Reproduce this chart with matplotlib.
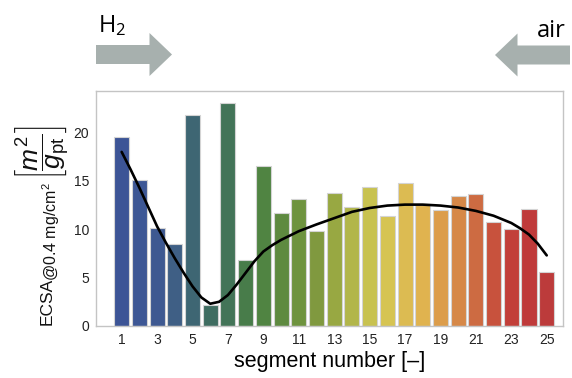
import numpy as np
import matplotlib.pyplot as plt
from matplotlib.patches import FancyArrow

plt.rcParams['font.family'] = ['Liberation Sans', 'DejaVu Sans']
plt.rcParams['mathtext.fontset'] = 'custom'
plt.rcParams['mathtext.rm'] = 'Liberation Sans'
plt.rcParams['mathtext.it'] = 'Liberation Sans:italic'
plt.rcParams['mathtext.bf'] = 'Liberation Sans:bold'

# ECSA per segment [m^2/g_pt]
segments = np.arange(1, 26)
ecsa = [19.5, 15.1, 10.1, 8.5, 21.8, 2.2, 23.1, 6.8, 16.5, 11.7,
        13.1, 9.8, 13.7, 12.3, 14.4, 11.4, 14.8, 12.5, 12.0, 13.4,
        13.6, 10.8, 10.0, 12.1, 5.6]
# smoothed trend
trend_x = [1, 1.5, 2, 2.5, 3, 3.5, 4, 4.5, 5, 5.5, 6, 6.5, 7, 7.5, 8, 8.5,
           9, 9.5, 10, 11, 12, 13, 14, 15, 16, 17, 18, 19, 20, 21, 22, 23,
           23.5, 24, 24.5, 25]
trend_y = [18.0, 16.2, 14.3, 12.3, 10.3, 8.6, 7.0, 5.5, 4.1, 2.95, 2.3, 2.5,
           3.2, 4.3, 5.5, 6.7, 7.7, 8.35, 8.9, 9.8, 10.5, 11.15, 11.8, 12.2,
           12.45, 12.55, 12.55, 12.45, 12.25, 11.9, 11.4, 10.65, 10.1, 9.45,
           8.5, 7.3]
bar_colors = ['#3c5496', '#3d5795', '#3e5991', '#3f5f85', '#3e6673',
              '#3f6d61', '#437458', '#487c4a', '#508442', '#5e8a40',
              '#6e933e', '#80993f', '#98a842', '#b2b64a', '#c8c250',
              '#d6c452', '#dcbb52', '#e0b34f', '#dc9d4b', '#d68848',
              '#cd6b42', '#c8523d', '#c23f39', '#bf3a3a', '#bc3b3b']

W, H = 572, 378
fig = plt.figure(figsize=(W / 100, H / 100), dpi=100)
ax = fig.add_axes([0.1678, 0.1376, 0.8165, 0.6217])

ax.bar(segments, ecsa, width=0.85, color=bar_colors,
       edgecolor='#d4d4d4', linewidth=0.8)
ax.plot(trend_x, trend_y, color='black', lw=1.9,
        solid_capstyle='round', solid_joinstyle='round')

ax.set_xlim(-0.45, 25.92)
ax.set_ylim(0, 24.3)
ax.set_xticks(np.arange(1, 26, 2))
ax.set_yticks([0, 5, 10, 15, 20])
ax.tick_params(length=0, labelsize=10, pad=5, colors='#222222')
for s in ax.spines.values():
    s.set_color('#c4c4c4')
    s.set_linewidth(1.0)

ax.set_xlabel('segment number [–]', fontsize=15.5, labelpad=3)

# y label in three pieces (subscript and fraction are larger than mathtext allows)
def px(x, y):
    return x / W, 1 - y / H

lbl = dict(rotation=90, rotation_mode='anchor', color='#111111')
fig.text(*px(52, 325), 'ECSA', fontsize=12.5, ha='left', va='baseline', **lbl)
fig.text(*px(56.5, 281), r'@0.4 mg/cm$^2$', fontsize=11.5,
         ha='left', va='baseline', **lbl)
fig.text(*px(42, 180), r'$\left[\dfrac{m^2}{g_{\mathrm{pt}}}\right]$',
         fontsize=19, ha='left', va='center', **lbl)

# flow direction arrows
arrow_kw = dict(width=0.19, head_width=0.43, head_length=0.225,
                length_includes_head=True, color='#a7b0ae', lw=0,
                transform=fig.dpi_scale_trans)
fig.patches.append(FancyArrow(0.96, 3.235, 0.76, 0, **arrow_kw))
fig.patches.append(FancyArrow(5.70, 3.23, -0.75, 0, **arrow_kw))

fig.text(98 / W, 0.915, r'H$_\mathregular{2}$', fontsize=17,
         family='Open Sans', va='baseline', ha='left')
fig.text(566 / W, 0.902, 'air', fontsize=17,
         family='Open Sans', va='baseline', ha='right')

fig.savefig('out.png', dpi=100)
